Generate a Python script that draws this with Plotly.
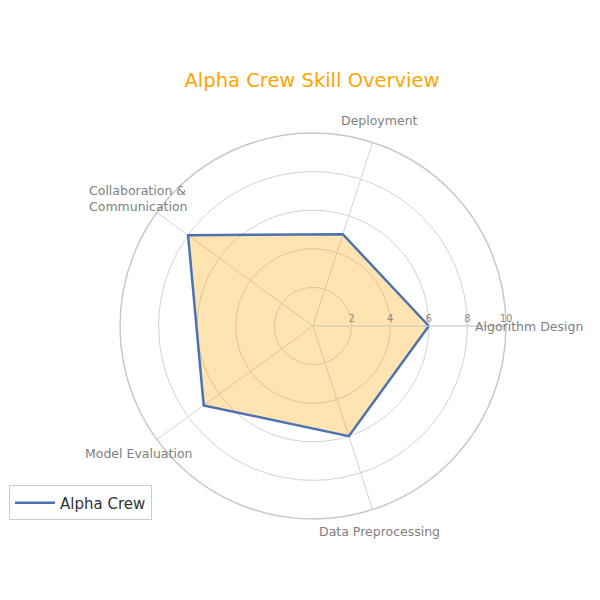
import math
import plotly.graph_objects as go

categories = ["Algorithm Design", "Deployment", "Collaboration &<br>Communication",
              "Model Evaluation", "Data Preprocessing"]
values = [6, 5, 8, 7, 6]
series_name = "Alpha Crew"
radial_ticks = [2, 4, 6, 8, 10]

theta = categories + [categories[0]]
r = values + [values[0]]

W = H = 600
cx, cy, R = 313, 326, 193          # polar centre and outer radius, pixels
label_r = 1.12 * R                  # category labels just outside the ring

fig = go.Figure()
fig.add_trace(go.Scatterpolar(
    r=r, theta=theta, mode="none", fill="toself",
    fillcolor="rgba(255,165,0,0.3)", showlegend=False, hoverinfo="skip",
))
fig.add_trace(go.Scatterpolar(
    r=r, theta=theta, name=series_name, mode="lines",
    line=dict(color="#4C72B0", width=2.5),
))

annotations = []
n = len(categories)
for i, cat in enumerate(categories):
    ang = 2 * math.pi * i / n
    px = cx + label_r * math.cos(ang)
    py = cy - label_r * math.sin(ang)
    annotations.append(dict(
        text=cat, x=px / W, y=1 - py / H, xref="paper", yref="paper",
        xanchor="center", yanchor="middle", align="left", showarrow=False,
        font=dict(size=12.5, color="#808080", family="DejaVu Sans"),
    ))

fig.update_layout(
    width=W, height=H,
    margin=dict(l=0, r=0, t=0, b=0),
    paper_bgcolor="white", plot_bgcolor="white",
    font=dict(family="DejaVu Sans", color="#808080"),
    title=dict(text="Alpha Crew Skill Overview", x=0.52, xanchor="center",
               y=0.867, yanchor="middle",
               font=dict(size=19.5, color="#FFA500", family="DejaVu Sans")),
    polar=dict(
        domain=dict(x=[(cx - R) / W, (cx + R) / W],
                    y=[1 - (cy + R) / H, 1 - (cy - R) / H]),
        bgcolor="white",
        radialaxis=dict(range=[0, 10], tickvals=radial_ticks, angle=0,
                        side="counterclockwise",
                        tickfont=dict(size=10, color="#8a8a8a"),
                        gridcolor="#d3d3d3", linecolor="#d3d3d3",
                        showline=True, ticks=""),
        angularaxis=dict(rotation=0, direction="counterclockwise",
                         showticklabels=False,
                         gridcolor="#d3d3d3", linecolor="#c8c8c8",
                         linewidth=1.5, ticks=""),
    ),
    annotations=annotations,
    showlegend=True,
    legend=dict(x=0.015, y=0.191, xanchor="left", yanchor="top",
                bordercolor="#cccccc", borderwidth=1, bgcolor="white",
                itemwidth=40,
                font=dict(size=15, color="#333333")),
)

fig.write_html("out.html")
